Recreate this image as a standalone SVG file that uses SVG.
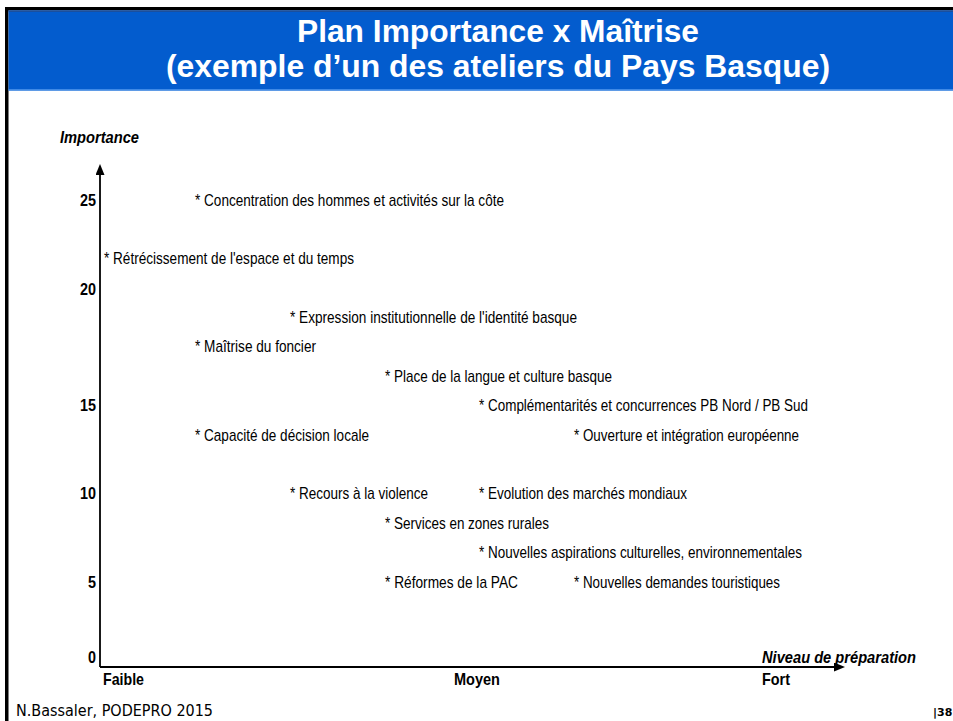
<svg xmlns="http://www.w3.org/2000/svg" width="953" height="721" viewBox="0 0 953 721">
<style>
.title{font-family:"Liberation Sans",Arial,sans-serif;font-weight:bold;font-size:32px;fill:#ffffff;text-anchor:middle}
.item{font-family:"Liberation Sans Narrow","Liberation Sans",Arial,sans-serif;font-size:17px;fill:#000}
.tick{font-family:"Liberation Sans Narrow","Liberation Sans",Arial,sans-serif;font-size:17px;font-weight:bold;fill:#000;text-anchor:end}
.lvl{font-family:"Liberation Sans Narrow","Liberation Sans",Arial,sans-serif;font-size:17px;font-weight:bold;fill:#000}
.axlab{font-family:"Liberation Sans Narrow","Liberation Sans",Arial,sans-serif;font-size:16px;font-weight:bold;font-style:italic;fill:#000}
.foot{font-family:"DejaVu Sans","Liberation Sans",sans-serif;font-size:15px;fill:#000}
.axis{stroke:#000;stroke-width:1.8;fill:none}
</style>
<defs>
<marker id="arrow" markerUnits="userSpaceOnUse" markerWidth="12" markerHeight="10" refX="0" refY="4.5" orient="auto">
<path d="M0,0 L11,4.5 L0,9 z" fill="#000"/>
</marker>
</defs>
<rect x="0" y="0" width="953" height="721" fill="#ffffff"/>
<g id="frame">
<rect x="5" y="7" width="948" height="3.5" fill="#000"/>
<rect x="5" y="7" width="3.5" height="714" fill="#000"/>
<rect x="8.5" y="10.5" width="944.5" height="80" fill="#035cce"/>
<rect x="8.5" y="10.5" width="944.5" height="1.5" fill="#1a4f9e"/>
<rect x="8.5" y="89" width="944.5" height="1.5" fill="#3f8ae6"/>
</g>
<g id="title">
<text class="title" x="498" y="42" textLength="402" lengthAdjust="spacingAndGlyphs">Plan Importance x Maîtrise</text>
<text class="title" x="498" y="77" textLength="664" lengthAdjust="spacingAndGlyphs">(exemple d’un des ateliers du Pays Basque)</text>
</g>
<g id="connectors">
<line class="axis" x1="100" y1="667" x2="100" y2="175" marker-end="url(#arrow)"/>
<line class="axis" x1="100" y1="667" x2="834" y2="667" marker-end="url(#arrow)"/>
</g>
<g id="axis-labels">
<text class="axlab" x="60" y="143" textLength="79" lengthAdjust="spacingAndGlyphs">Importance</text>
<text class="axlab" x="762" y="663" textLength="154" lengthAdjust="spacingAndGlyphs">Niveau de préparation</text>
<text class="tick" x="96" y="206" textLength="16" lengthAdjust="spacingAndGlyphs">25</text>
<text class="tick" x="96" y="295" textLength="16" lengthAdjust="spacingAndGlyphs">20</text>
<text class="tick" x="96" y="411" textLength="16" lengthAdjust="spacingAndGlyphs">15</text>
<text class="tick" x="96" y="499" textLength="16" lengthAdjust="spacingAndGlyphs">10</text>
<text class="tick" x="96" y="588" textLength="8" lengthAdjust="spacingAndGlyphs">5</text>
<text class="tick" x="96" y="663" textLength="8" lengthAdjust="spacingAndGlyphs">0</text>
<text class="lvl" x="103" y="685" textLength="41" lengthAdjust="spacingAndGlyphs">Faible</text>
<text class="lvl" x="454" y="685" textLength="46" lengthAdjust="spacingAndGlyphs">Moyen</text>
<text class="lvl" x="762" y="685" textLength="28" lengthAdjust="spacingAndGlyphs">Fort</text>
</g>
<g id="n-concentration"><text class="item" x="195" y="206" textLength="309" lengthAdjust="spacingAndGlyphs">* Concentration des hommes et activités sur la côte</text></g>
<g id="n-retrecissement"><text class="item" x="104" y="264" textLength="250" lengthAdjust="spacingAndGlyphs">* Rétrécissement de l'espace et du temps</text></g>
<g id="n-expression"><text class="item" x="290" y="323" textLength="287" lengthAdjust="spacingAndGlyphs">* Expression institutionnelle de l'identité basque</text></g>
<g id="n-foncier"><text class="item" x="195" y="352" textLength="121" lengthAdjust="spacingAndGlyphs">* Maîtrise du foncier</text></g>
<g id="n-langue"><text class="item" x="385" y="382" textLength="227" lengthAdjust="spacingAndGlyphs">* Place de la langue et culture basque</text></g>
<g id="n-complementarites"><text class="item" x="479" y="411" textLength="329" lengthAdjust="spacingAndGlyphs">* Complémentarités et concurrences PB Nord / PB Sud</text></g>
<g id="n-decision"><text class="item" x="195" y="441" textLength="174" lengthAdjust="spacingAndGlyphs">* Capacité de décision locale</text></g>
<g id="n-ouverture"><text class="item" x="574" y="441" textLength="225" lengthAdjust="spacingAndGlyphs">* Ouverture et intégration européenne</text></g>
<g id="n-violence"><text class="item" x="290" y="499" textLength="138" lengthAdjust="spacingAndGlyphs">* Recours à la violence</text></g>
<g id="n-marches"><text class="item" x="479" y="499" textLength="208" lengthAdjust="spacingAndGlyphs">* Evolution des marchés mondiaux</text></g>
<g id="n-services"><text class="item" x="385" y="529" textLength="164" lengthAdjust="spacingAndGlyphs">* Services en zones rurales</text></g>
<g id="n-aspirations"><text class="item" x="479" y="558" textLength="323" lengthAdjust="spacingAndGlyphs">* Nouvelles aspirations culturelles, environnementales</text></g>
<g id="n-pac"><text class="item" x="385" y="588" textLength="133" lengthAdjust="spacingAndGlyphs">* Réformes de la PAC</text></g>
<g id="n-touristiques"><text class="item" x="574" y="588" textLength="206" lengthAdjust="spacingAndGlyphs">* Nouvelles demandes touristiques</text></g>
<g id="footer">
<text class="foot" x="16" y="716" textLength="197" lengthAdjust="spacingAndGlyphs">N.Bassaler, PODEPRO 2015</text>
<text x="933" y="716" font-family="DejaVu Sans, Liberation Sans, sans-serif" font-size="11" font-weight="bold" fill="#000">|38</text>
</g>
</svg>
